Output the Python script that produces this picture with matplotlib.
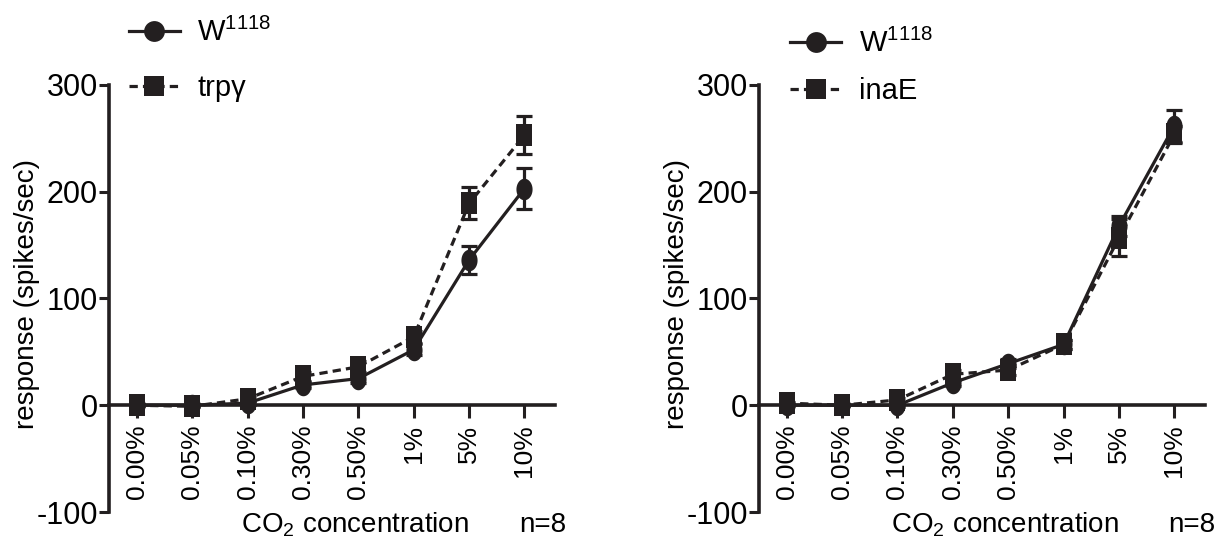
import numpy as np
import matplotlib
matplotlib.use("Agg")
import matplotlib.pyplot as plt
from matplotlib.path import Path
from matplotlib.lines import Line2D

plt.rcParams['font.family'] = ['Liberation Sans', 'DejaVu Sans']
plt.rcParams['mathtext.default'] = 'regular'
plt.rcParams['axes.unicode_minus'] = False

# CO2 concentrations on the x axis
concentrations = ['0.00%', '0.05%', '0.10%', '0.30%', '0.50%', '1%', '5%', '10%']

# Left panel: w1118 vs trp-gamma (mean, SEM; spikes/sec)
left_w1118 = [0, 0, 2, 19, 25, 52, 136, 203]
left_w1118_sem = [1, 1, 2, 3, 4, 5, 13, 19]
left_trpg = [0, -1, 6, 27, 36, 64, 189, 253]
left_trpg_sem = [1, 1, 2, 4, 5, 6, 15, 18]

# Right panel: w1118 vs inaE
right_w1118 = [0, 0, 0, 21, 39, 57, 168, 262]
right_w1118_sem = [1, 1, 2, 3, 4, 4, 9, 15]
right_inae = [2, 0, 5, 29, 33, 57, 157, 254]
right_inae_sem = [1, 1, 2, 4, 5, 4, 17, 8]

y_ticks = [-100, 0, 100, 200, 300]

# narrow marker shapes used on the data points
theta = np.linspace(0, 2 * np.pi, 64)
ellipse = Path(np.column_stack([0.75 * np.cos(theta), np.sin(theta)]), closed=True)
rect = Path([(-0.75, -1), (0.75, -1), (0.75, 1), (-0.75, 1), (-0.75, -1)], closed=True)

INK = '#231f20'
LW = 2.3
DASH = (0, (2.6, 1.6))

fig = plt.figure(figsize=(12.25, 5.44), dpi=100)


def panel(rect_pos, w, w_sem, mut, mut_sem, mut_label, leg_anchor, leg_spacing,
          xlabel_x, n_x):
    ax = fig.add_axes(rect_pos)
    x = np.arange(len(concentrations))
    ax.errorbar(x, w, yerr=w_sem, fmt='none', ecolor=INK, elinewidth=LW,
                capsize=5.5, capthick=LW, zorder=3)
    ax.plot(x, w, color=INK, lw=LW, marker=ellipse, markersize=15.5,
            markerfacecolor=INK, markeredgewidth=0, zorder=4)
    ax.errorbar(x, mut, yerr=mut_sem, fmt='none', ecolor=INK, elinewidth=LW,
                capsize=5.5, capthick=LW, zorder=5)
    ax.plot(x, mut, color=INK, lw=LW, linestyle=DASH, marker=rect,
            markersize=15.5, markerfacecolor=INK, markeredgewidth=0, zorder=6)

    ax.set_xlim(-0.5, 7.55)
    ax.set_ylim(-100, 300)
    ax.set_xticks(x)
    ax.set_xticklabels(concentrations)
    ax.set_yticks(y_ticks)
    for s in ('top', 'right'):
        ax.spines[s].set_visible(False)
    ax.spines['bottom'].set_position(('data', 0))
    for s in ('left', 'bottom'):
        ax.spines[s].set_linewidth(2.6)
        ax.spines[s].set_color(INK)
    ax.tick_params(axis='y', direction='out', length=7, width=2.2, labelsize=22,
                   pad=1, color=INK)
    ax.tick_params(axis='x', direction='out', length=9, width=2.2, labelsize=19,
                   pad=5, labelrotation=90, color=INK)
    ax.set_ylabel('response (spikes/sec)', fontsize=20)
    ax.yaxis.set_label_coords(-0.155, 0.51)
    ax.patch.set_visible(False)

    handles = [
        Line2D([], [], color=INK, lw=LW, marker='o', markersize=15,
               markeredgewidth=0),
        Line2D([], [], color=INK, lw=LW, linestyle=DASH, marker='s',
               markersize=15, markeredgewidth=0),
    ]
    fig.legend(handles, ['W$^{1118}$', mut_label], loc='upper left',
               bbox_to_anchor=leg_anchor, frameon=False, fontsize=21,
               handlelength=1.75, handletextpad=0.6, labelspacing=leg_spacing,
               borderaxespad=0, borderpad=0)

    fig.text(xlabel_x, 0.035, 'CO$_2$ concentration', fontsize=20,
             ha='center', va='center')
    fig.text(n_x, 0.035, 'n=8', fontsize=20, ha='center', va='center')
    return ax


panel([0.089, 0.0588, 0.364, 0.785], left_w1118, left_w1118_sem, left_trpg,
      left_trpg_sem, 'trpγ', (0.105, 0.967), 0.93, 0.290, 0.443)
panel([0.6196, 0.0588, 0.364, 0.785], right_w1118, right_w1118_sem, right_inae,
      right_inae_sem, 'inaE', (0.645, 0.947), 0.66, 0.820, 0.973)

fig.savefig('out.png', dpi=100)
